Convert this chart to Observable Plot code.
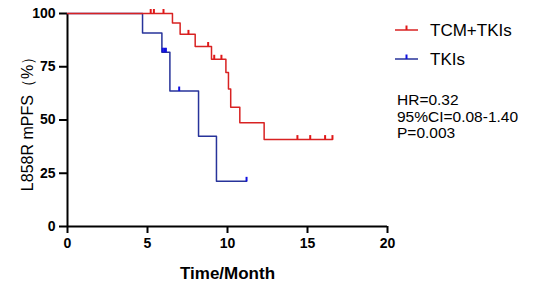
<!DOCTYPE html>
<html>
<head>
<meta charset="utf-8">
<script src="https://cdn.jsdelivr.net/npm/d3@7"></script>
<script src="https://cdn.jsdelivr.net/npm/@observablehq/plot@0.6"></script>
<style>
  html, body { margin: 0; padding: 0; background: #fff; }
  #chart { width: 536px; height: 286px; }
  svg { font-family: "Liberation Sans", Arial, sans-serif; }
</style>
</head>
<body>
<div id="chart"></div>
<script>
// ---- data ----
const xTicks = [0, 5, 10, 15, 20];
const yTicks = [0, 25, 50, 75, 100];
const xLabel = "Time/Month";
const yLabel = "L858R mPFS（%）";

const seriesNames = ["TCM+TKIs", "TKIs"];
const seriesColors = ["#d82222", "#27339a"];
const censorColors = ["#e01818", "#1010e0"];

const redTime = [0, 6.56, 7.04, 7.98, 9.0, 9.9, 10.06, 10.2, 10.77, 12.29, 16.56];
const redSurv = [100, 95.5, 90.2, 84.5, 78.5, 72.3, 64.5, 56.0, 48.7, 40.8, 40.8];
const redCensorTime = [5.2, 5.4, 6.0, 7.56, 8.79, 9.17, 9.62, 14.37, 15.17, 16.1, 16.56];
const redCensorSurv = [100, 100, 100, 90.2, 84.5, 78.5, 78.5, 40.8, 40.8, 40.8, 40.8];

const blueTime = [0, 4.69, 5.9, 6.4, 8.19, 9.31, 11.19];
const blueSurv = [100, 90.9, 81.8, 63.6, 42.4, 21.2, 21.2];
const blueCensorTime = [5.95, 6.05, 6.15, 6.98, 11.19];
const blueCensorSurv = [81.8, 81.8, 81.8, 63.6, 21.2];

const statLines = ["HR=0.32", "95%CI=0.08-1.40", "P=0.003"];

// ---- build tables ----
const redLine = redTime.map((t, i) => ({t, s: redSurv[i]}));
const blueLine = blueTime.map((t, i) => ({t, s: blueSurv[i]}));
const redCens = redCensorTime.map((t, i) => ({t, s: redCensorSurv[i]}));
const blueCens = blueCensorTime.map((t, i) => ({t, s: blueCensorSurv[i]}));

const tickSymbol = {
  draw(context, size) {
    context.moveTo(0, 0);
    context.lineTo(0, -4.5);
  }
};

const plot = Plot.plot({
  width: 536,
  height: 286,
  marginLeft: 67,
  marginRight: 149,
  marginTop: 13,
  marginBottom: 60,
  style: {fontFamily: "'Liberation Sans', Arial, sans-serif", background: "white", color: "black"},
  x: {domain: [0, 20]},
  y: {domain: [0, 100]},
  marks: [
    Plot.axisX({ticks: xTicks, tickSize: 7, tickPadding: 5, strokeWidth: 2, fontSize: 14, fontWeight: "bold", label: null}),
    Plot.axisY({ticks: yTicks, tickSize: 8, tickPadding: 4, strokeWidth: 2, fontSize: 14, fontWeight: "bold", label: null}),
    Plot.ruleY([0], {strokeWidth: 2}),
    Plot.ruleX([0], {strokeWidth: 2}),
    Plot.line(blueLine, {x: "t", y: "s", curve: "step-after", stroke: seriesColors[1], strokeWidth: 1.5}),
    Plot.dot(blueCens, {x: "t", y: "s", symbol: tickSymbol, fill: "none", stroke: censorColors[1], strokeWidth: 2}),
    Plot.line(redLine, {x: "t", y: "s", curve: "step-after", stroke: seriesColors[0], strokeWidth: 1.5}),
    Plot.dot(redCens, {x: "t", y: "s", symbol: tickSymbol, fill: "none", stroke: censorColors[0], strokeWidth: 2}),
    Plot.text([xLabel], {frameAnchor: "bottom", dy: 47, fontSize: 17, fontWeight: "bold", lineAnchor: "middle"}),
    Plot.text([yLabel], {frameAnchor: "left", textAnchor: "middle", lineAnchor: "middle", rotate: -90, dx: -40, fontSize: 16})
  ]
});

// ---- legend & stats ----
const svg = d3.select(plot);
const lg = svg.append("g")
  .attr("font-family", "'Liberation Sans', Arial, sans-serif")
  .attr("text-anchor", "start");
const legendY = [30, 59];
seriesNames.forEach((name, i) => {
  const g = lg.append("g").attr("transform", `translate(395,${legendY[i]})`);
  g.append("line").attr("x1", 0).attr("x2", 23).attr("y1", 0).attr("y2", 0)
    .attr("stroke", seriesColors[i]).attr("stroke-width", 1.5);
  g.append("line").attr("x1", 11.5).attr("x2", 11.5).attr("y1", 0).attr("y2", -4.5)
    .attr("stroke", censorColors[i]).attr("stroke-width", 2);
  g.append("text").attr("x", 35).attr("y", 0).attr("dy", "0.35em")
    .attr("text-anchor", "start")
    .attr("font-size", 17).attr("fill", "black").text(name);
});
statLines.forEach((s, i) => {
  lg.append("text").attr("x", 397).attr("y", 100 + i * 16.3).attr("dy", "0.35em")
    .attr("text-anchor", "start")
    .attr("font-size", 15.5).attr("fill", "black").text(s);
});

document.getElementById("chart").appendChild(plot);
</script>
</body>
</html>
